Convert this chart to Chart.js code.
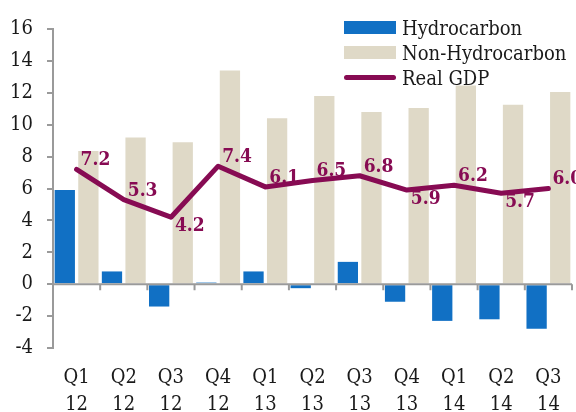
<!DOCTYPE html>
<html>
<head>
<meta charset="utf-8">
<script src="https://cdn.jsdelivr.net/npm/chart.js@4"></script>
<style>
    body { margin: 0; background: #fff; }
    #wrap { position: relative; width: 576px; height: 412px; overflow: hidden; }
    #legend { position: absolute; left: 344px; top: 15px; font-family: "DejaVu Serif Condensed", "DejaVu Serif", serif; font-size: 20px; color: #1a1a1a; }
    .item { display: flex; align-items: center; height: 25px; }
    .swatch { width: 52px; height: 13px; margin-right: 6px; }
    .swatch.line { height: 5px; border-radius: 3px; }
</style>
</head>
<body>
<div id="wrap">
    <canvas id="gdpChart"></canvas>
    <div id="legend"></div>
</div>
<script>
// quarterly growth contributions (%)
const quarters = [['Q1', '12'], ['Q2', '12'], ['Q3', '12'], ['Q4', '12'], ['Q1', '13'], ['Q2', '13'],
    ['Q3', '13'], ['Q4', '13'], ['Q1', '14'], ['Q2', '14'], ['Q3', '14']];
const hydrocarbon = [5.9, 0.8, -1.4, 0.1, 0.8, -0.25, 1.4, -1.1, -2.3, -2.2, -2.8];
const nonHydrocarbon = [8.35, 9.2, 8.9, 13.4, 10.4, 11.8, 10.8, 11.05, 12.45, 11.25, 12.05];
const realGdp = [7.2, 5.3, 4.2, 7.4, 6.1, 6.5, 6.8, 5.9, 6.2, 5.7, 6.0];
const gdpLabelSide = ['up', 'up', 'down', 'up', 'up', 'up', 'up', 'down', 'up', 'down', 'up'];
const yMin = -4, yMax = 16, yStep = 2;

const BLUE = '#1170c4';
const BEIGE = '#dfd9c7';
const MAROON = '#870b53';
const AXIS = '#9a9a9a';
const FONT = '"DejaVu Serif Condensed", "DejaVu Serif", serif';

// zero line with category ticks, like the original x axis
const zeroAxis = {
    id: 'zeroAxis',
    afterDatasetsDraw(chart) {
        const ctx = chart.ctx;
        const x = chart.scales.x, y = chart.scales.y;
        const y0 = y.getPixelForValue(0);
        const half = (x.getPixelForValue(1) - x.getPixelForValue(0)) / 2;
        ctx.save();
        ctx.strokeStyle = AXIS;
        ctx.lineWidth = 2;
        ctx.beginPath();
        ctx.moveTo(chart.chartArea.left, y0);
        ctx.lineTo(chart.chartArea.right, y0);
        for (let i = 0; i <= quarters.length; i++) {
            const px = x.getPixelForValue(i) - half;
            ctx.moveTo(px, y0);
            ctx.lineTo(px, y0 + 6);
        }
        ctx.stroke();
        ctx.restore();
    }
};

// value labels next to the GDP line
const gdpLabels = {
    id: 'gdpLabels',
    afterDatasetsDraw(chart) {
        const ctx = chart.ctx;
        const meta = chart.getDatasetMeta(2);
        ctx.save();
        ctx.font = 'bold 19px ' + FONT;
        ctx.fillStyle = MAROON;
        ctx.textAlign = 'left';
        ctx.textBaseline = 'middle';
        meta.data.forEach((pt, i) => {
            const dy = gdpLabelSide[i] === 'up' ? -9 : 9;
            ctx.fillText(realGdp[i].toFixed(1), pt.x + 4, pt.y + dy);
        });
        ctx.restore();
    }
};

const chart = new Chart(document.getElementById('gdpChart'), {
    data: {
        labels: quarters,
        datasets: [
            { type: 'bar', label: 'Hydrocarbon', data: hydrocarbon, backgroundColor: BLUE, order: 1 },
            { type: 'bar', label: 'Non-Hydrocarbon', data: nonHydrocarbon, backgroundColor: BEIGE, order: 1 },
            { type: 'line', label: 'Real GDP', data: realGdp, borderColor: MAROON, borderWidth: 5,
              pointRadius: 0, tension: 0, borderCapStyle: 'round', borderJoinStyle: 'round', order: 0 }
        ]
    },
    options: {
        responsive: true,
        maintainAspectRatio: false,
        animation: false,
        layout: { padding: { top: 29, right: 4, left: 0, bottom: 0 } },
        datasets: { bar: { barPercentage: 0.86, categoryPercentage: 1 } },
        plugins: { legend: { display: false }, tooltip: { enabled: false } },
        scales: {
            x: {
                grid: { display: false },
                border: { display: false },
                ticks: { color: '#1a1a1a', font: { family: FONT, size: 20, lineHeight: 1.35 }, padding: 8, maxRotation: 0 },
                afterFit(scale) { scale.height = 64; }
            },
            y: {
                min: yMin, max: yMax,
                grid: { drawOnChartArea: false, color: AXIS, lineWidth: 2, tickLength: 6 },
                border: { color: AXIS, width: 2 },
                ticks: { stepSize: yStep, color: '#1a1a1a', font: { family: FONT, size: 20 }, padding: 14 },
                afterFit(scale) { scale.width = 53; }
            }
        }
    },
    plugins: [zeroAxis, gdpLabels]
});

// html legend built from the datasets
const legend = document.getElementById('legend');
chart.data.datasets.forEach(ds => {
    const item = document.createElement('div');
    item.className = 'item';
    const sw = document.createElement('span');
    sw.className = ds.type === 'line' ? 'swatch line' : 'swatch';
    sw.style.background = ds.type === 'line' ? ds.borderColor : ds.backgroundColor;
    item.appendChild(sw);
    item.appendChild(document.createTextNode(ds.label));
    legend.appendChild(item);
});
</script>
</body>
</html>
